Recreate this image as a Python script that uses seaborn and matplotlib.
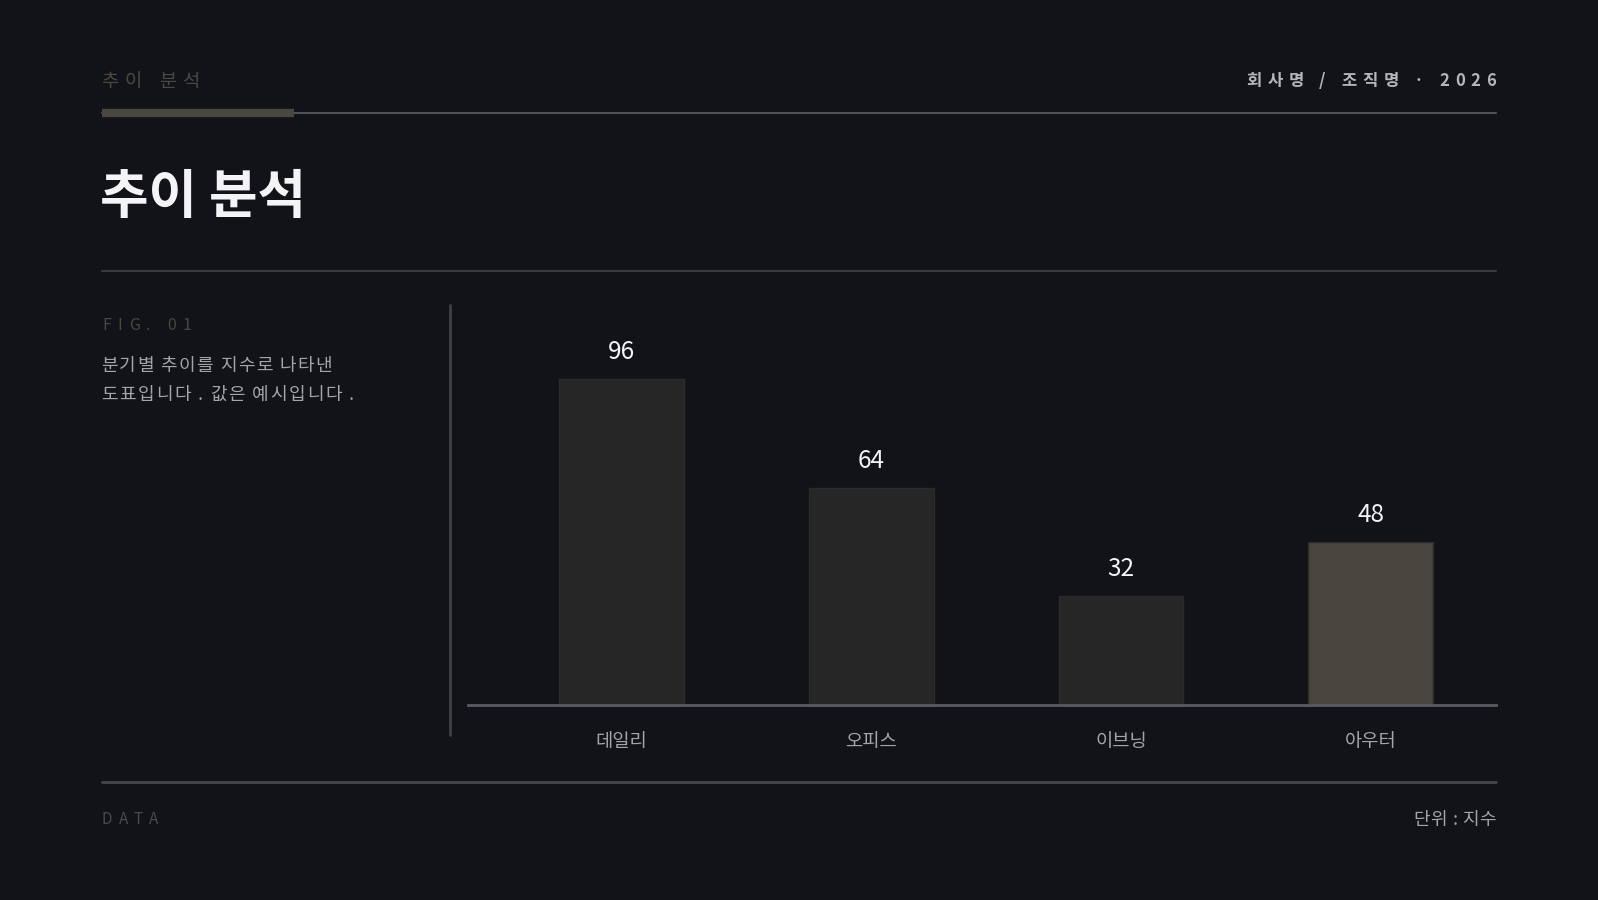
import matplotlib
matplotlib.use("Agg")
import matplotlib.pyplot as plt
import seaborn as sns
import pandas as pd
from matplotlib.lines import Line2D

categories = ["데일리", "오피스", "이브닝", "아우터"]
values = [96, 64, 32, 48]
bar_colors = ["#262626", "#262626", "#262626", "#48443e"]

header_label = "추이 분석"
header_right = "회사명 / 조직명 · 2026"
title_text = "추이 분석"
fig_label = "FIG. 01"
desc_lines = ["분기별 추이를 지수로 나타낸", "도표입니다 . 값은 예시입니다 ."]
footer_left = "DATA"
footer_right = "단위 : 지수"

BG = "#121318"
W, H = 1598, 900

sns.set_theme(style="dark")
plt.rcParams["font.family"] = ["Noto Sans CJK KR", "DejaVu Sans"]

fig = plt.figure(figsize=(W / 100, H / 100), dpi=100, facecolor=BG)

def fx(x):
    return x / W

def fy(y):
    return 1 - y / H

renderer = fig.canvas.get_renderer()

def spaced_text(x, y, s, size, color, spacing, weight="normal", align="left"):
    widths = []
    for ch in s:
        t = fig.text(0, 0, ch if ch != " " else "a", fontsize=size, weight=weight)
        bb = t.get_window_extent(renderer=renderer)
        t.remove()
        if ch == " ":
            t2 = fig.text(0, 0, "a a", fontsize=size, weight=weight)
            w2 = t2.get_window_extent(renderer=renderer).width
            t2.remove()
            widths.append(w2 - 2 * bb.width)
        else:
            widths.append(bb.width)
    total = sum(widths) + spacing * (len(s) - 1)
    cx = x if align == "left" else x - total
    for ch, w in zip(s, widths):
        if ch != " ":
            fig.text(fx(cx), fy(y), ch, fontsize=size, color=color, weight=weight,
                     ha="left", va="center")
        cx += w + spacing

# header
spaced_text(101, 81, header_label, 13.5, "#4c4943", 6.5)
spaced_text(1496, 81, header_right, 12, "#b4b6bc", 5.8, weight="bold", align="right")
fig.add_artist(Line2D([fx(102), fx(1496)], [fy(113), fy(113)], color="#505157", lw=1.5))
fig.add_artist(Line2D([fx(102), fx(294)], [fy(113), fy(113)], color="#4a4640", lw=6, solid_capstyle="butt"))

# title
fig.text(fx(100), fy(198), title_text, fontsize=38, color="#f4f4f6", weight="bold",
         ha="left", va="center")
fig.add_artist(Line2D([fx(102), fx(1496)], [fy(271), fy(271)], color="#3a3b40", lw=1.5))

# side text
spaced_text(102, 325, fig_label, 11.5, "#4a4741", 6.5)
spaced_text(101, 366, desc_lines[0], 13, "#a3a5ab", 1.4)
spaced_text(101, 395, desc_lines[1], 13, "#a3a5ab", 1.6)
fig.add_artist(Line2D([fx(450), fx(450)], [fy(305), fy(735)], color="#3f4046", lw=2))

# footer
fig.add_artist(Line2D([fx(102), fx(1496)], [fy(782), fy(782)], color="#45464c", lw=2))
spaced_text(102, 820, footer_left, 11, "#4a4a4c", 6.0)
spaced_text(1496, 820, footer_right, 13, "#a3a5ab", 0.5, align="right")

# chart
ax = fig.add_axes([fx(468), fy(705), fx(1496) - fx(468), fy(306) - fy(705)])
ax.set_facecolor(BG)
df = pd.DataFrame({"cat": categories, "val": values})
sns.barplot(data=df, x="cat", y="val", hue="cat", palette=bar_colors, legend=False,
            width=0.5, ax=ax, saturation=1, edgecolor="#2b2b2b", linewidth=1)
ax.set_xlim(-0.615, 3.502)
ax.set_ylim(0, 117.6)
for i, v in enumerate(values):
    ax.annotate(f"{v}", (i, v), xytext=(0, 27), textcoords="offset pixels",
                ha="center", va="center", fontsize=17.5, color="#f4f4f6", weight="medium")
ax.set_xlabel("")
ax.set_ylabel("")
ax.set_yticks([])
ax.tick_params(axis="x", length=0, pad=19, labelsize=13.5, labelcolor="#a3a5ab")
ax.grid(False)
for sp in ["top", "left", "right"]:
    ax.spines[sp].set_visible(False)
ax.spines["bottom"].set_color("#5a5b62")
ax.spines["bottom"].set_linewidth(2)

fig.savefig("out.png", dpi=100, facecolor=BG)
